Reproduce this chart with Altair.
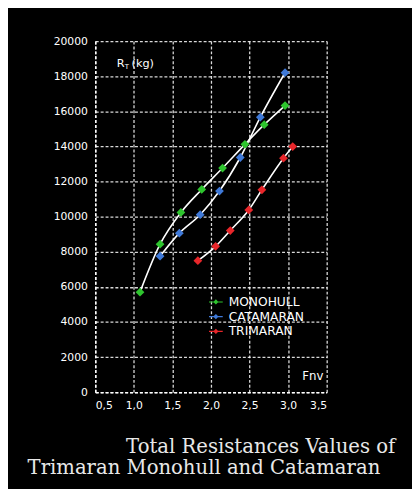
import altair as alt
import pandas as pd

series_names = ["MONOHULL", "CATAMARAN", "TRIMARAN"]
series_colors = ["#2ec42e", "#3f79d8", "#e8262a"]

mono_x = [1.08, 1.34, 1.61, 1.88, 2.15, 2.44, 2.69, 2.96]
mono_y = [5700, 8430, 10240, 11550, 12770, 14120, 15240, 16330]
cata_x = [1.34, 1.59, 1.86, 2.11, 2.38, 2.64, 2.96]
cata_y = [7750, 9060, 10110, 11460, 13370, 15670, 18200]
tri_x = [1.83, 2.06, 2.25, 2.49, 2.66, 2.94, 3.06]
tri_y = [7490, 8310, 9210, 10380, 11530, 13330, 13990]

x_ticks = [0.5, 1.0, 1.5, 2.0, 2.5, 3.0, 3.5]
y_ticks = [0, 2000, 4000, 6000, 8000, 10000, 12000, 14000, 16000, 18000, 20000]

title_line1 = "Total Resistances Values of"
title_line2 = "Trimaran Monohull and Catamaran"

rows = []
for name, xs, ys in [("MONOHULL", mono_x, mono_y), ("CATAMARAN", cata_x, cata_y), ("TRIMARAN", tri_x, tri_y)]:
    for i, (a, b) in enumerate(zip(xs, ys)):
        rows.append({"series": name, "fnv": a, "rt": b, "order": i})
df = pd.DataFrame(rows)

W, H = 236, 358

x_enc = alt.X("fnv:Q", scale=alt.Scale(domain=[0.5, 3.5], nice=False),
              axis=alt.Axis(values=x_ticks, title=None,
                            labelExpr="replace(format(datum.value, '.1f'), '.', ',')"))
y_enc = alt.Y("rt:Q", scale=alt.Scale(domain=[0, 20000], nice=False),
              axis=alt.Axis(values=y_ticks, title=None, format="d"))

lines = alt.Chart(df).mark_line(color="white", strokeWidth=1.6, interpolate="monotone").encode(
    x=x_enc, y=y_enc, detail="series:N", order="order:Q")

legend_path = "M-1,-0.08L-0.3,-0.08L0,-0.38L0.3,-0.08L1,-0.08L1,0.08L0.3,0.08L0,0.38L-0.3,0.08L-1,0.08Z"

points = alt.Chart(df).mark_point(shape="diamond", filled=True, size=80, opacity=1).encode(
    x=x_enc, y=y_enc,
    color=alt.Color("series:N",
                    scale=alt.Scale(domain=series_names, range=series_colors),
                    legend=alt.Legend(title=None, orient="none", legendX=115, legendY=258,
                                      symbolType=legend_path, symbolSize=196,
                                      labelFontSize=12.5, labelFont="DejaVu Sans",
                                      labelColor="white", labelOffset=5,
                                      rowPadding=0, padding=0)))

ann = pd.DataFrame([{"t": "x"}])
r_main = alt.Chart(ann).mark_text(text="R", color="white", font="DejaVu Sans", fontSize=11.5,
                                  align="left", baseline="alphabetic").encode(
    x=alt.value(22), y=alt.value(26))
r_sub = alt.Chart(ann).mark_text(text="T", color="white", font="DejaVu Sans", fontSize=7,
                                 align="left", baseline="alphabetic").encode(
    x=alt.value(30), y=alt.value(28))
r_unit = alt.Chart(ann).mark_text(text="(kg)", color="white", font="DejaVu Sans", fontSize=11.5,
                                  align="left", baseline="alphabetic").encode(
    x=alt.value(37), y=alt.value(26))
fnv = alt.Chart(ann).mark_text(text="Fnv", color="white", font="DejaVu Sans", fontSize=12,
                               align="left", baseline="alphabetic").encode(
    x=alt.value(211), y=alt.value(346))
t1 = alt.Chart(ann).mark_text(text=title_line1, color="#e8e8e8", font="DejaVu Serif", fontSize=20,
                              align="right", baseline="alphabetic").encode(
    x=alt.value(306), y=alt.value(420))
t2 = alt.Chart(ann).mark_text(text=title_line2, color="#e8e8e8", font="DejaVu Serif", fontSize=20,
                              align="left", baseline="alphabetic").encode(
    x=alt.value(-69), y=alt.value(441))

chart = alt.layer(lines, points, r_main, r_sub, r_unit, fnv, t1, t2).properties(
    width=W, height=H,
    autosize=alt.AutoSizeParams(type="none"),
    padding={"left": 89, "top": 29, "right": 87, "bottom": 96},
    background="black",
).configure_view(strokeWidth=0).configure_axis(
    domainColor="white", domainDash=[3, 2], domainWidth=1.5,
    gridColor="white", gridDash=[3, 2], gridWidth=1.3, gridOpacity=0.85,
    ticks=False, labelColor="white", labelFont="DejaVu Sans", labelFontSize=11,
    labelPadding=8,
)

chart.save("out.html", embed_options={"renderer": "svg", "actions": False})
